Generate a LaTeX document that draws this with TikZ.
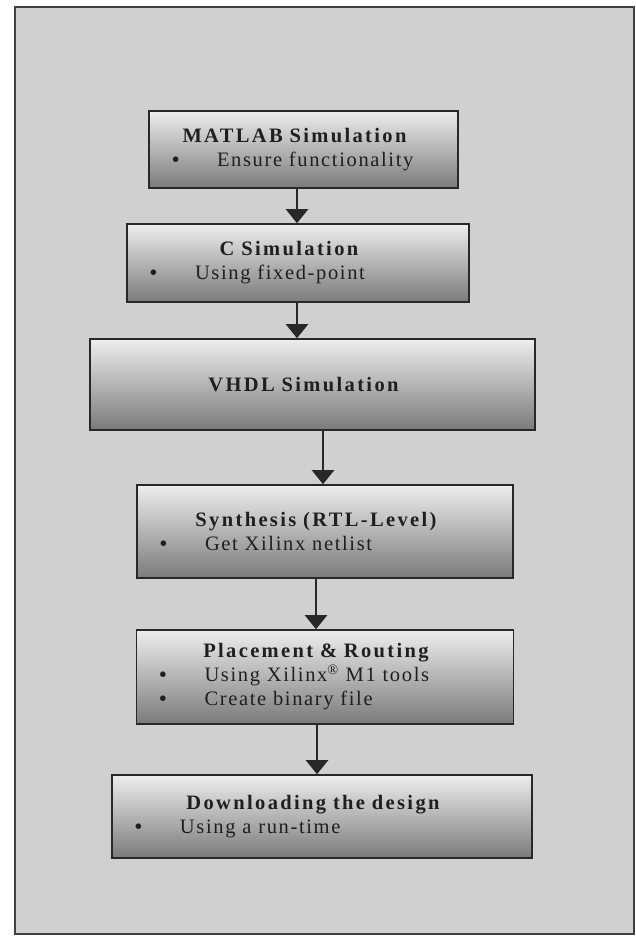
\documentclass[tikz,border=0pt]{standalone}
\usepackage{fontspec}
\setmainfont{Liberation Serif}[LetterSpace=8]
\newfontfamily\titlefont{Liberation Serif}[LetterSpace=11.5]
\usetikzlibrary{arrows.meta}

\definecolor{paper}{RGB}{208,208,208}
\definecolor{ink}{RGB}{40,40,40}

\newcommand{\stagetitle}[1]{\makebox[\linewidth][c]{\titlefont\bfseries #1\hspace{18bp}}}
\newcommand{\stageitem}[1]{\makebox[45bp][l]{\bfseries\textbullet}#1}

\tikzset{
  stage/.style={draw=ink, line width=1.6bp, top color=black!7, bottom color=black!52,
    inner xsep=23bp, inner ysep=0pt, align=left, text=black!88,
    font=\fontsize{20.5bp}{24bp}\selectfont},
  flow/.style={draw=ink, line width=2.4bp, -{Triangle[width=22bp,length=14bp]}}
}

\begin{document}
\begin{tikzpicture}[x=1bp, y=-1bp]
        \useasboundingbox (0,0) rectangle (636,937);
        \draw[draw=black!75, line width=2bp, fill=paper] (15,7) rectangle (634,934);

        \node[stage, text width=263bp, minimum height=77bp] (matlab) at (303.5, 149.5)
            {\stagetitle{MATLAB Simulation}\\ \stageitem{Ensure functionality}};
        \node[stage, text width=296bp, minimum height=78bp] (csim) at (298, 263)
            {\stagetitle{C Simulation}\\ \stageitem{Using fixed-point}};
        \node[stage, text width=399bp, minimum height=91bp] (vhdl) at (312.5, 384.5)
            {\stagetitle{\raisebox{-6bp}{VHDL Simulation}}};
        \node[stage, text width=330bp, minimum height=93bp] (synth) at (325, 531.5)
            {\stagetitle{Synthesis (RTL-Level)}\\ \stageitem{Get Xilinx netlist}\\[6bp]};
        \node[stage, text width=331bp, minimum height=94bp] (place) at (325, 677)
            {\stagetitle{Placement \& Routing}\\ \stageitem{Using Xilinx\textsuperscript{®} M1 tools}\\ \stageitem{Create binary file}};
        \node[stage, text width=374bp, minimum height=83bp] (download) at (322, 816.5)
            {\stagetitle{Downloading the design}\\ \stageitem{Using a run-time}};

        \draw[flow] ([xshift=-6.5bp]matlab.south) -- ([xshift=-6.5bp]matlab.south |- csim.north);
        \draw[flow] ([xshift=-1bp]csim.south) -- ([xshift=-1bp]csim.south |- vhdl.north);
        \draw[flow] ([xshift=-2bp]vhdl.south -| synth.north) -- ([xshift=-2bp]synth.north);
        \draw[flow] ([xshift=-9bp]synth.south) -- ([xshift=-9bp]synth.south |- place.north);
        \draw[flow] ([xshift=-8bp]place.south) -- ([xshift=-8bp]place.south |- download.north);
    \end{tikzpicture}
\end{document}
